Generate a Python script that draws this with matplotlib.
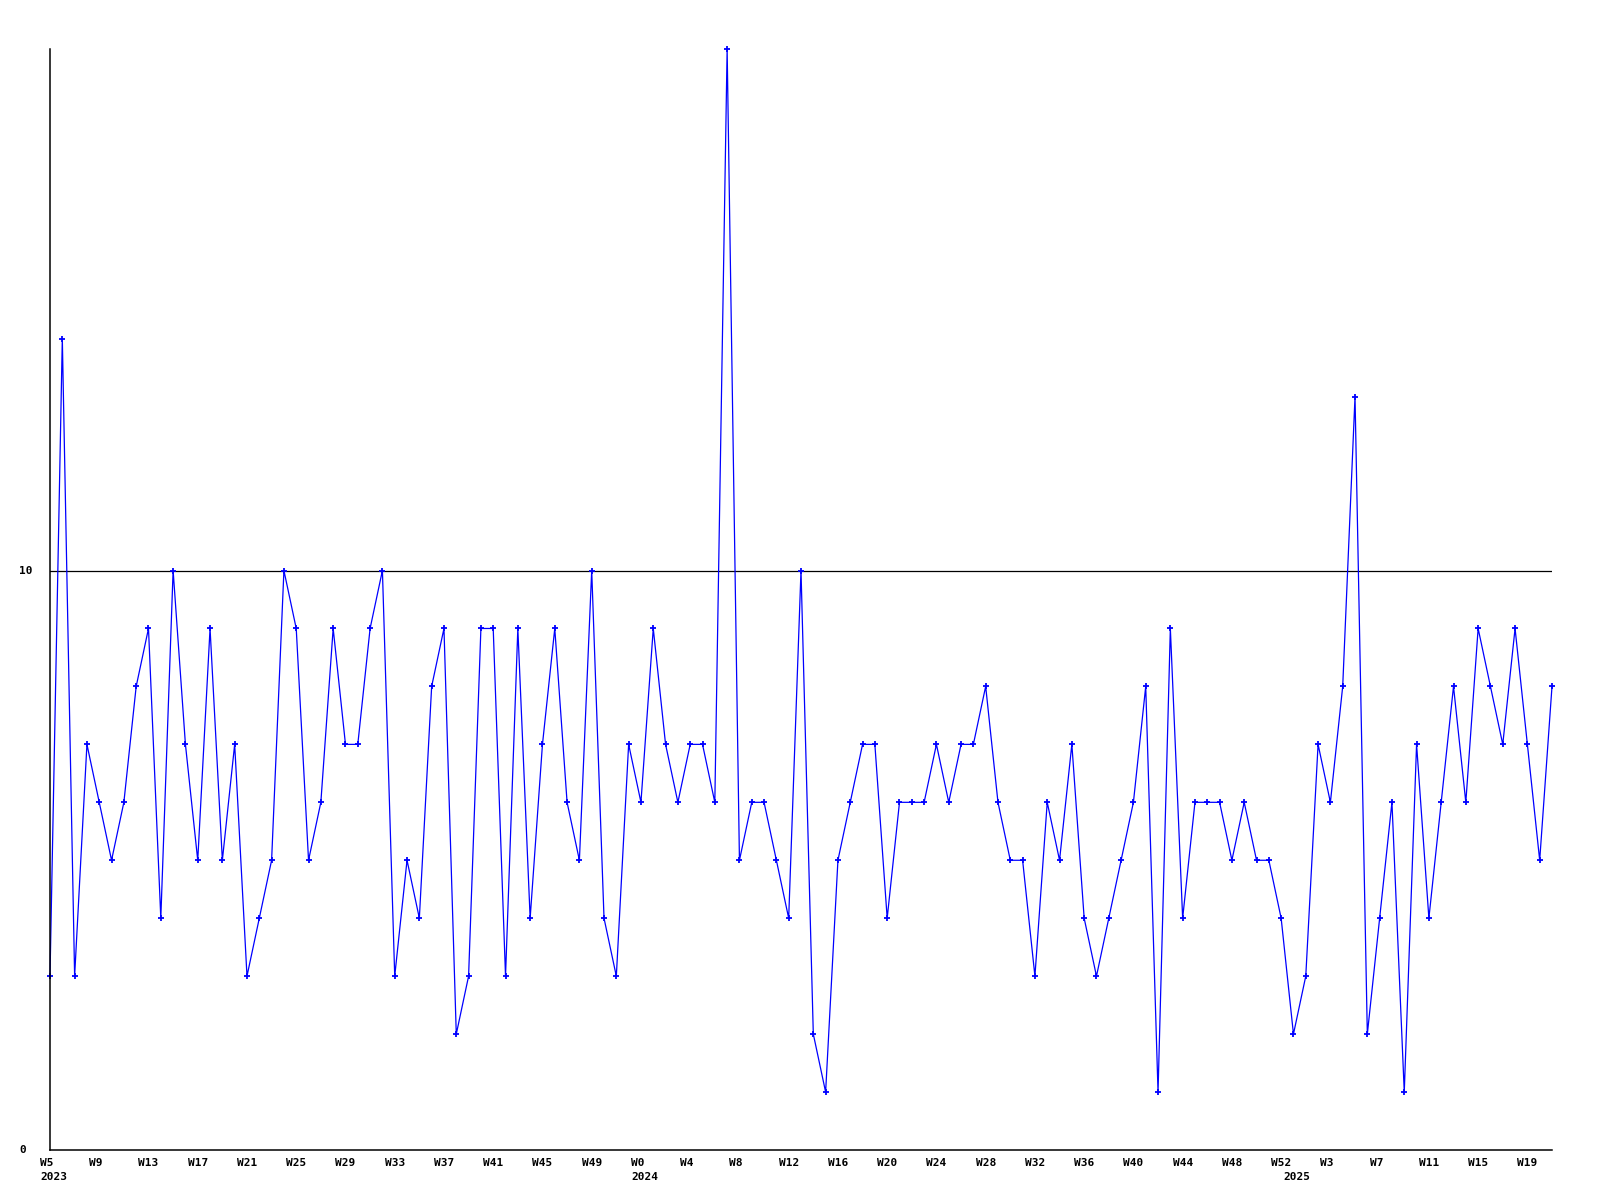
import matplotlib
matplotlib.use("Agg")
import matplotlib.pyplot as plt

# week numbers shown on the x axis, one per point
weeks_2023 = list(range(5, 53))
weeks_2024 = list(range(0, 53))
weeks_2025 = list(range(0, 22))
years = ["2023", "2024", "2025"]

# weekly counts
values = [
    3, 14, 3, 7, 6, 5, 6, 8, 9, 4, 10, 7, 5, 9, 5, 7, 3, 4, 5, 10,
    9, 5, 6, 9, 7, 7, 9, 10, 3, 5, 4, 8, 9, 2, 3, 9, 9, 3, 9, 4,
    7, 9, 6, 5, 10, 4, 3, 7, 6, 9, 7, 6, 7, 7, 6, 19, 5, 6, 6, 5,
    4, 10, 2, 1, 5, 6, 7, 7, 4, 6, 6, 6, 7, 6, 7, 7, 8, 6, 5, 5,
    3, 6, 5, 7, 4, 3, 4, 5, 6, 8, 1, 9, 4, 6, 6, 6, 5, 6, 5, 5,
    4, 2, 3, 7, 6, 8, 13, 2, 4, 6, 1, 7, 4, 6, 8, 6, 9, 8, 7, 9,
    7, 5, 8,
]
ref_level = 10
y_ticks = [0, 10]

week_nums = weeks_2023 + weeks_2024 + weeks_2025
year_starts = [0, len(weeks_2023), len(weeks_2023) + len(weeks_2024)]
x = list(range(len(values)))

font = dict(family="DejaVu Sans Mono", fontsize=8, fontweight="bold", color="black")

fig = plt.figure(figsize=(16, 12), dpi=100)
ax = fig.add_axes([50 / 1600, 50 / 1200, 1502 / 1600, 1101 / 1200])

ax.axhline(ref_level, color="black", linewidth=0.9, zorder=1)
ax.plot(x, values, color="#0000ff", linewidth=0.9, marker="+",
        markersize=4, markeredgewidth=1.3, zorder=2, clip_on=False)

ax.set_xlim(0, len(values) - 1)
ax.set_ylim(0, max(values))
for side in ("top", "right"):
    ax.spines[side].set_visible(False)
for side in ("left", "bottom"):
    ax.spines[side].set_linewidth(1.1)
ax.set_xticks([])
ax.set_yticks([])

for v in y_ticks:
    ax.text(-0.0206, v, str(v), transform=ax.get_yaxis_transform(),
            ha="left", va="center", **font)

for i in range(0, len(values), 4):
    ax.annotate(f"W{week_nums[i]}", xy=(i, 0), xytext=(-7.2, -9.4),
                textcoords="offset points", ha="left", va="center",
                annotation_clip=False, **font)

for i, yr in zip(year_starts, years):
    ax.annotate(yr, xy=(i, 0), xytext=(-7.2, -19.4),
                textcoords="offset points", ha="left", va="center",
                annotation_clip=False, **font)

fig.savefig("out.png", dpi=100)
